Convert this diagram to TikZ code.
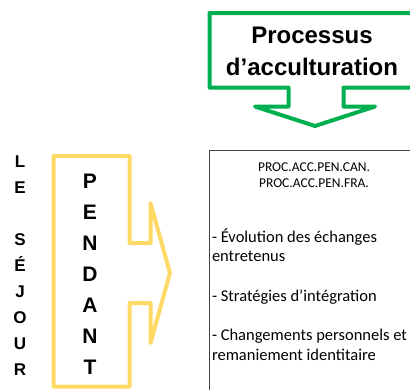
\documentclass[tikz,border=0pt]{standalone}
\usepackage{fontspec}
\newfontfamily\arialf{Liberation Sans}
\newfontfamily\calf{Carlito}
\definecolor{grn}{HTML}{00B050}
\definecolor{ylw}{HTML}{FFD966}
\definecolor{boxc}{HTML}{404040}
\tikzset{
  shapeline/.style={line width=4bp, line join=round},
  txt/.style={anchor=base, inner sep=0pt, outer sep=0pt, text=black},
}
\begin{document}
\begin{tikzpicture}[x=1bp,y=-1bp]
\useasboundingbox (0,0) rectangle (410,390);
\fill[white] (0,0) rectangle (410,390);
\clip (0,0) rectangle (410,390);
% black box
\draw[boxc, line width=0.9bp] (209,400) -- (209,150) -- (430,150);
% green arrow
\draw[shapeline, grn] (209.5,13) -- (421,13) -- (421,87.5) -- (343.5,87.5) -- (343.5,106.5)
  -- (375,106.5) -- (315,126) -- (255,106.5) -- (288.5,106.5) -- (288.5,87.5) -- (209.5,87.5) -- cycle;
% yellow arrow
\draw[shapeline, ylw] (53.5,386.5) -- (53.5,156) -- (129.5,156) -- (129.5,243) -- (150.5,243)
  -- (150.5,203) -- (170,273) -- (150.5,343) -- (150.5,303) -- (129.5,303) -- (129.5,386.5) -- cycle;
% texts
\node[txt] (proc) at (312,43) {\parbox[t]{200bp}{\centering\arialf\bfseries\fontsize{24bp}{32bp}\selectfont Processus\\d’acculturation}};
\node[txt] (sejour) at (20,167) {\parbox[t]{30bp}{\centering\arialf\bfseries\fontsize{17bp}{26bp}\selectfont L\\E\\\mbox{}\\S\\É\\J\\O\\U\\R}};
\node[txt] (pendant) at (90,188) {\parbox[t]{30bp}{\centering\arialf\bfseries\fontsize{21bp}{31bp}\selectfont P\\E\\N\\D\\A\\N\\T}};
\node[txt] (codes) at (314,171) {\parbox[t]{180bp}{\centering\calf\fontsize{13.5bp}{16bp}\selectfont PROC.ACC.PEN.CAN.\\PROC.ACC.PEN.FRA.}};
\node[txt, anchor=base west] (items) at (212,242) {\parbox[t]{200bp}{\raggedright\calf\fontsize{16.5bp}{19.7bp}\selectfont - Évolution des échanges\\entretenus\\\mbox{}\\- Stratégies d’intégration\\\mbox{}\\- Changements personnels et\\remaniement identitaire}};
\end{tikzpicture}
\end{document}
